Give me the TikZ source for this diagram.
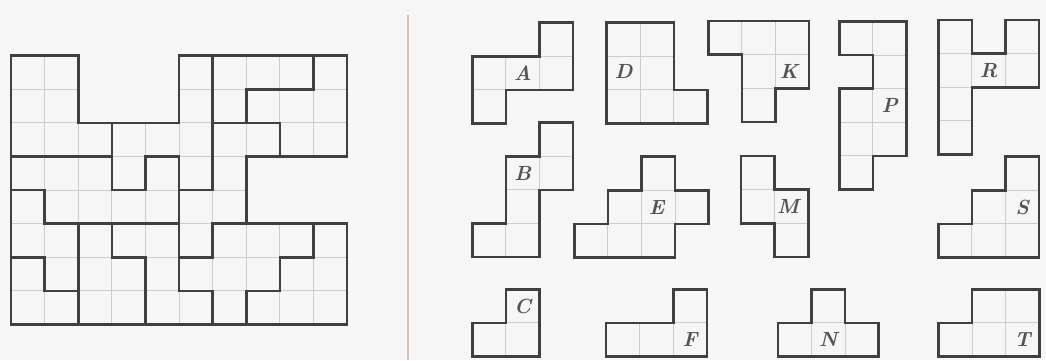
\documentclass[tikz,border=0pt]{standalone}
\usepackage{tikz}
\definecolor{bgcol}{RGB}{246,246,246}
\definecolor{thincol}{RGB}{205,205,205}
\definecolor{thickcol}{RGB}{64,64,64}
\definecolor{sepcol}{RGB}{218,192,178}
\definecolor{labcol}{RGB}{85,85,85}
\tikzset{
  cellline/.style={draw=thincol, line width=0.9pt},
  outline/.style={draw=thickcol, line width=2.6pt, line join=miter},
  inner/.style={draw=thickcol, line width=2.6pt, line cap=rect, line join=miter},
  plabel/.style={text=labcol, font=\fontsize{20.5}{20.5}\selectfont\bfseries\itshape, inner sep=0pt},
  cellsys/.style={x=33.6pt, y=-33.6pt}
}
\begin{document}
\begin{tikzpicture}[x=1pt,y=-1pt]
\useasboundingbox (0,0) rectangle (1046,360);
\fill[bgcol] (0,0) rectangle (1046,360);

% ---------- left grid ----------
\begin{scope}[xshift=11pt, yshift=-55.7pt, cellsys]
  \foreach \r in {0,1} \foreach \c in {0,1,5,6,7,8,9}
    \draw[cellline] (\c,\r) rectangle +(1,1);
  \foreach \c in {0,...,9}
    \draw[cellline] (\c,2) rectangle +(1,1);
  \foreach \r in {3,4} \foreach \c in {0,...,6}
    \draw[cellline] (\c,\r) rectangle +(1,1);
  \foreach \r in {5,6,7} \foreach \c in {0,...,9}
    \draw[cellline] (\c,\r) rectangle +(1,1);
  % outline
  \draw[outline] (0,0) -- (2,0) -- (2,2) -- (5,2) -- (5,0) -- (10,0) -- (10,3)
     -- (7,3) -- (7,5) -- (10,5) -- (10,8) -- (0,8) -- cycle;
  % interior piece borders
  \draw[inner] (0,3) -- (3,3);
  \draw[inner] (3,2) -- (3,4) -- (4,4) -- (4,3) -- (5,3) -- (5,7);
  \draw[inner] (5,4) -- (6,4);
  \draw[inner] (6,0) -- (6,4);
  \draw[inner] (6,2) -- (8,2) -- (8,3);
  \draw[inner] (7,2) -- (7,1) -- (9,1) -- (9,0);
  \draw[inner] (0,4) -- (1,4) -- (1,5) -- (5,5);
  \draw[inner] (7,5) -- (6,5) -- (6,6) -- (5,6);
  \draw[inner] (5,7) -- (6,7) -- (6,8);
  \draw[inner] (9,5) -- (9,6) -- (8,6) -- (8,7) -- (7,7) -- (7,8);
  \draw[inner] (2,5) -- (2,8);
  \draw[inner] (3,5) -- (3,6) -- (4,6) -- (4,8);
  \draw[inner] (0,6) -- (1,6) -- (1,7) -- (2,7);
\end{scope}

% ---------- separator ----------
\draw[draw=sepcol, line width=2pt] (408,15) -- (408,360);

% ---------- pieces ----------
% A
\begin{scope}[xshift=472.3pt, yshift=-22.7pt, cellsys]
  \foreach \c/\r in {2/0,0/1,1/1,2/1,0/2} \draw[cellline] (\c,\r) rectangle +(1,1);
  \draw[outline] (2,0) -- (3,0) -- (3,2) -- (1,2) -- (1,3) -- (0,3) -- (0,1) -- (2,1) -- cycle;
  \node[plabel] (labA) at (1.5,1.5) {A};
\end{scope}
% D
\begin{scope}[xshift=606.7pt, yshift=-22.7pt, cellsys]
  \foreach \c/\r in {0/0,1/0,0/1,1/1,0/2,1/2,2/2} \draw[cellline] (\c,\r) rectangle +(1,1);
  \draw[outline] (0,0) -- (2,0) -- (2,2) -- (3,2) -- (3,3) -- (0,3) -- cycle;
  \node[plabel] (labD) at (0.5,1.45) {D};
\end{scope}
% K
\begin{scope}[xshift=708.3pt, yshift=-21pt, cellsys]
  \foreach \c/\r in {0/0,1/0,2/0,1/1,2/1,1/2} \draw[cellline] (\c,\r) rectangle +(1,1);
  \draw[outline] (0,0) -- (3,0) -- (3,2) -- (2,2) -- (2,3) -- (1,3) -- (1,1) -- (0,1) -- cycle;
  \node[plabel] (labK) at (2.4,1.5) {K};
\end{scope}
% P
\begin{scope}[xshift=839.3pt, yshift=-21.5pt, cellsys]
  \foreach \c/\r in {0/0,1/0,1/1,0/2,1/2,0/3,1/3,0/4} \draw[cellline] (\c,\r) rectangle +(1,1);
  \draw[outline] (0,0) -- (2,0) -- (2,4) -- (1,4) -- (1,5) -- (0,5) -- (0,2) -- (1,2) -- (1,1) -- (0,1) -- cycle;
  \node[plabel] (labP) at (1.5,2.5) {P};
\end{scope}
% R
\begin{scope}[xshift=938.3pt, yshift=-20pt, cellsys]
  \foreach \c/\r in {0/0,0/1,0/2,0/3,2/0,1/1,2/1} \draw[cellline] (\c,\r) rectangle +(1,1);
  \draw[outline] (0,0) -- (1,0) -- (1,1) -- (2,1) -- (2,0) -- (3,0) -- (3,2) -- (1,2) -- (1,4) -- (0,4) -- cycle;
  \node[plabel] (labR) at (1.5,1.5) {R};
\end{scope}
% B
\begin{scope}[xshift=472.3pt, yshift=-122.7pt, cellsys]
  \foreach \c/\r in {2/0,1/1,2/1,1/2,0/3,1/3} \draw[cellline] (\c,\r) rectangle +(1,1);
  \draw[outline] (2,0) -- (3,0) -- (3,2) -- (2,2) -- (2,4) -- (0,4) -- (0,3) -- (1,3) -- (1,1) -- (2,1) -- cycle;
  \node[plabel] (labB) at (1.5,1.5) {B};
\end{scope}
% E
\begin{scope}[xshift=574.3pt, yshift=-156.7pt, cellsys]
  \foreach \c/\r in {2/0,1/1,2/1,3/1,0/2,1/2,2/2} \draw[cellline] (\c,\r) rectangle +(1,1);
  \draw[outline] (2,0) -- (3,0) -- (3,1) -- (4,1) -- (4,2) -- (3,2) -- (3,3) -- (0,3) -- (0,2) -- (1,2) -- (1,1) -- (2,1) -- cycle;
  \node[plabel] (labE) at (2.45,1.5) {E};
\end{scope}
% M
\begin{scope}[xshift=741pt, yshift=-156pt, cellsys]
  \foreach \c/\r in {0/0,0/1,1/1,1/2} \draw[cellline] (\c,\r) rectangle +(1,1);
  \draw[outline] (0,0) -- (1,0) -- (1,1) -- (2,1) -- (2,3) -- (1,3) -- (1,2) -- (0,2) -- cycle;
  \node[plabel] (labM) at (1.4,1.5) {M};
\end{scope}
% S
\begin{scope}[xshift=938.3pt, yshift=-156.7pt, cellsys]
  \foreach \c/\r in {2/0,1/1,2/1,0/2,1/2,2/2} \draw[cellline] (\c,\r) rectangle +(1,1);
  \draw[outline] (2,0) -- (3,0) -- (3,3) -- (0,3) -- (0,2) -- (1,2) -- (1,1) -- (2,1) -- cycle;
  \node[plabel] (labS) at (2.5,1.5) {S};
\end{scope}
% C
\begin{scope}[xshift=472.3pt, yshift=-289.3pt, cellsys]
  \foreach \c/\r in {1/0,0/1,1/1} \draw[cellline] (\c,\r) rectangle +(1,1);
  \draw[outline] (1,0) -- (2,0) -- (2,2) -- (0,2) -- (0,1) -- (1,1) -- cycle;
  \node[plabel] (labC) at (1.5,0.5) {C};
\end{scope}
% F
\begin{scope}[xshift=606pt, yshift=-289.3pt, cellsys]
  \foreach \c/\r in {2/0,0/1,1/1,2/1} \draw[cellline] (\c,\r) rectangle +(1,1);
  \draw[outline] (2,0) -- (3,0) -- (3,2) -- (0,2) -- (0,1) -- (2,1) -- cycle;
  \node[plabel] (labF) at (2.5,1.5) {F};
\end{scope}
% N
\begin{scope}[xshift=777.8pt, yshift=-289.3pt, cellsys]
  \foreach \c/\r in {1/0,0/1,1/1,2/1} \draw[cellline] (\c,\r) rectangle +(1,1);
  \draw[outline] (1,0) -- (2,0) -- (2,1) -- (3,1) -- (3,2) -- (0,2) -- (0,1) -- (1,1) -- cycle;
  \node[plabel] (labN) at (1.5,1.5) {N};
\end{scope}
% T
\begin{scope}[xshift=938.5pt, yshift=-289.3pt, cellsys]
  \foreach \c/\r in {1/0,2/0,0/1,1/1,2/1} \draw[cellline] (\c,\r) rectangle +(1,1);
  \draw[outline] (1,0) -- (3,0) -- (3,2) -- (0,2) -- (0,1) -- (1,1) -- cycle;
  \node[plabel] (labT) at (2.5,1.5) {T};
\end{scope}
\end{tikzpicture}
\end{document}
